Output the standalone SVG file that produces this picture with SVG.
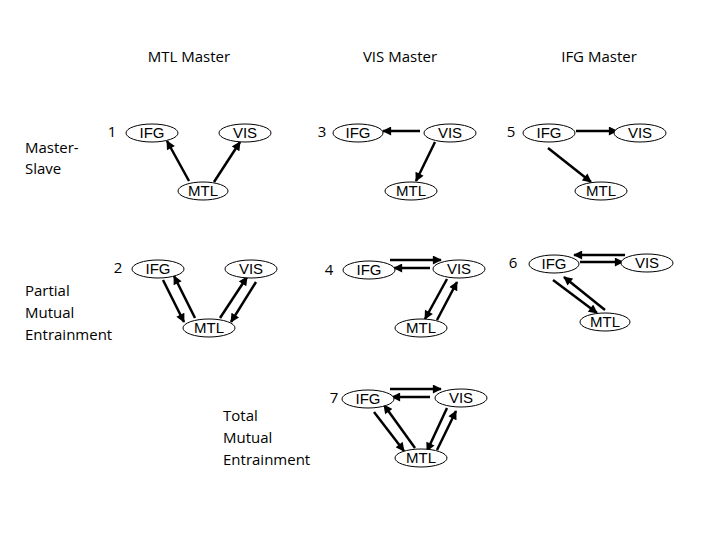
<svg xmlns="http://www.w3.org/2000/svg" width="720" height="540" viewBox="0 0 720 540">
<style>
.t{font-family:"Open Sans","Liberation Sans",sans-serif;font-size:15px;fill:#000}
.n{font-family:"Liberation Sans","DejaVu Sans",sans-serif;font-size:15px;fill:#000;text-anchor:middle}
.e{fill:#fff;stroke:#000;stroke-width:1}
.a{stroke:#000;stroke-width:2.5;fill:none;marker-end:url(#ah)}
</style>
<defs>
<marker id="ah" viewBox="0 0 10 10" refX="9" refY="5" markerWidth="10" markerHeight="9" markerUnits="userSpaceOnUse" orient="auto">
<path d="M0,0 L10,5 L0,10 z" fill="#000"/>
</marker>
</defs>
<rect width="720" height="540" fill="#fff"/>
<g id="labels">
<text class="t" x="189" y="62" text-anchor="middle">MTL Master</text>
<text class="t" x="400" y="62" text-anchor="middle">VIS Master</text>
<text class="t" x="599" y="62" text-anchor="middle">IFG Master</text>
<text class="t" x="25" y="153">Master-</text>
<text class="t" x="25" y="174">Slave</text>
<text class="t" x="25" y="296">Partial</text>
<text class="t" x="25" y="318">Mutual</text>
<text class="t" x="25" y="340">Entrainment</text>
<text class="t" x="223" y="421">Total</text>
<text class="t" x="223" y="443">Mutual</text>
<text class="t" x="223" y="465">Entrainment</text>
<text class="t" x="112" y="137" text-anchor="middle">1</text>
<text class="t" x="118" y="273" text-anchor="middle">2</text>
<text class="t" x="322" y="137" text-anchor="middle">3</text>
<text class="t" x="329" y="275" text-anchor="middle">4</text>
<text class="t" x="511" y="137" text-anchor="middle">5</text>
<text class="t" x="513" y="268" text-anchor="middle">6</text>
<text class="t" x="334" y="403" text-anchor="middle">7</text>
</g>
<g id="connectors">
<line class="a" x1="189" y1="181" x2="167" y2="141"/>
<line class="a" x1="214" y1="182" x2="240" y2="142"/>
<line class="a" x1="420" y1="131" x2="383" y2="131"/>
<line class="a" x1="435" y1="142" x2="416" y2="181"/>
<line class="a" x1="576" y1="131" x2="617" y2="131"/>
<line class="a" x1="548" y1="148" x2="591" y2="182"/>
<line class="a" x1="163" y1="280" x2="184" y2="322"/>
<line class="a" x1="195" y1="318" x2="174" y2="276"/>
<line class="a" x1="220" y1="318" x2="247" y2="277"/>
<line class="a" x1="256" y1="282" x2="231" y2="322"/>
<line class="a" x1="390" y1="260" x2="441" y2="260"/>
<line class="a" x1="430" y1="268" x2="394" y2="268"/>
<line class="a" x1="447" y1="279" x2="425" y2="319"/>
<line class="a" x1="437" y1="320" x2="457" y2="282"/>
<line class="a" x1="625" y1="255" x2="574" y2="255"/>
<line class="a" x1="580" y1="262" x2="623" y2="262"/>
<line class="a" x1="553" y1="280" x2="597" y2="313"/>
<line class="a" x1="605" y1="310" x2="564" y2="277"/>
<line class="a" x1="390" y1="389" x2="441" y2="389"/>
<line class="a" x1="430" y1="397" x2="392" y2="397"/>
<line class="a" x1="374" y1="412" x2="404" y2="451"/>
<line class="a" x1="415" y1="448" x2="384" y2="405"/>
<line class="a" x1="447" y1="408" x2="427" y2="451"/>
<line class="a" x1="437" y1="450" x2="456" y2="411"/>
</g>
<g id="p1-ifg"><ellipse class="e" cx="152" cy="133" rx="26" ry="9"/><text class="n" x="152" y="138">IFG</text></g>
<g id="p1-vis"><ellipse class="e" cx="245" cy="133" rx="26" ry="9"/><text class="n" x="245" y="138">VIS</text></g>
<g id="p1-mtl"><ellipse class="e" cx="203" cy="191" rx="25" ry="9"/><text class="n" x="203" y="196">MTL</text></g>
<g id="p3-ifg"><ellipse class="e" cx="358" cy="133" rx="25" ry="9"/><text class="n" x="358" y="138">IFG</text></g>
<g id="p3-vis"><ellipse class="e" cx="450" cy="133" rx="26" ry="9"/><text class="n" x="450" y="138">VIS</text></g>
<g id="p3-mtl"><ellipse class="e" cx="411" cy="191" rx="26" ry="9"/><text class="n" x="411" y="196">MTL</text></g>
<g id="p5-ifg"><ellipse class="e" cx="549" cy="133" rx="26" ry="9"/><text class="n" x="549" y="138">IFG</text></g>
<g id="p5-vis"><ellipse class="e" cx="640" cy="133" rx="26" ry="9"/><text class="n" x="640" y="138">VIS</text></g>
<g id="p5-mtl"><ellipse class="e" cx="601" cy="191" rx="26" ry="9"/><text class="n" x="601" y="196">MTL</text></g>
<g id="p2-ifg"><ellipse class="e" cx="158" cy="269" rx="26" ry="9"/><text class="n" x="158" y="274">IFG</text></g>
<g id="p2-vis"><ellipse class="e" cx="251" cy="269" rx="26" ry="9"/><text class="n" x="251" y="274">VIS</text></g>
<g id="p2-mtl"><ellipse class="e" cx="209" cy="328" rx="26" ry="9"/><text class="n" x="209" y="333">MTL</text></g>
<g id="p4-ifg"><ellipse class="e" cx="369" cy="270" rx="26" ry="9"/><text class="n" x="369" y="275">IFG</text></g>
<g id="p4-vis"><ellipse class="e" cx="459" cy="269" rx="26" ry="9"/><text class="n" x="459" y="274">VIS</text></g>
<g id="p4-mtl"><ellipse class="e" cx="421" cy="328" rx="26" ry="9"/><text class="n" x="421" y="333">MTL</text></g>
<g id="p6-ifg"><ellipse class="e" cx="554" cy="264" rx="25" ry="9"/><text class="n" x="554" y="269">IFG</text></g>
<g id="p6-vis"><ellipse class="e" cx="647" cy="263" rx="26" ry="9"/><text class="n" x="647" y="268">VIS</text></g>
<g id="p6-mtl"><ellipse class="e" cx="605" cy="322" rx="25" ry="9"/><text class="n" x="605" y="327">MTL</text></g>
<g id="p7-ifg"><ellipse class="e" cx="368" cy="399" rx="26" ry="9"/><text class="n" x="368" y="404">IFG</text></g>
<g id="p7-vis"><ellipse class="e" cx="461" cy="398" rx="26" ry="9"/><text class="n" x="461" y="403">VIS</text></g>
<g id="p7-mtl"><ellipse class="e" cx="421" cy="458" rx="26" ry="9"/><text class="n" x="421" y="463">MTL</text></g>
</svg>
